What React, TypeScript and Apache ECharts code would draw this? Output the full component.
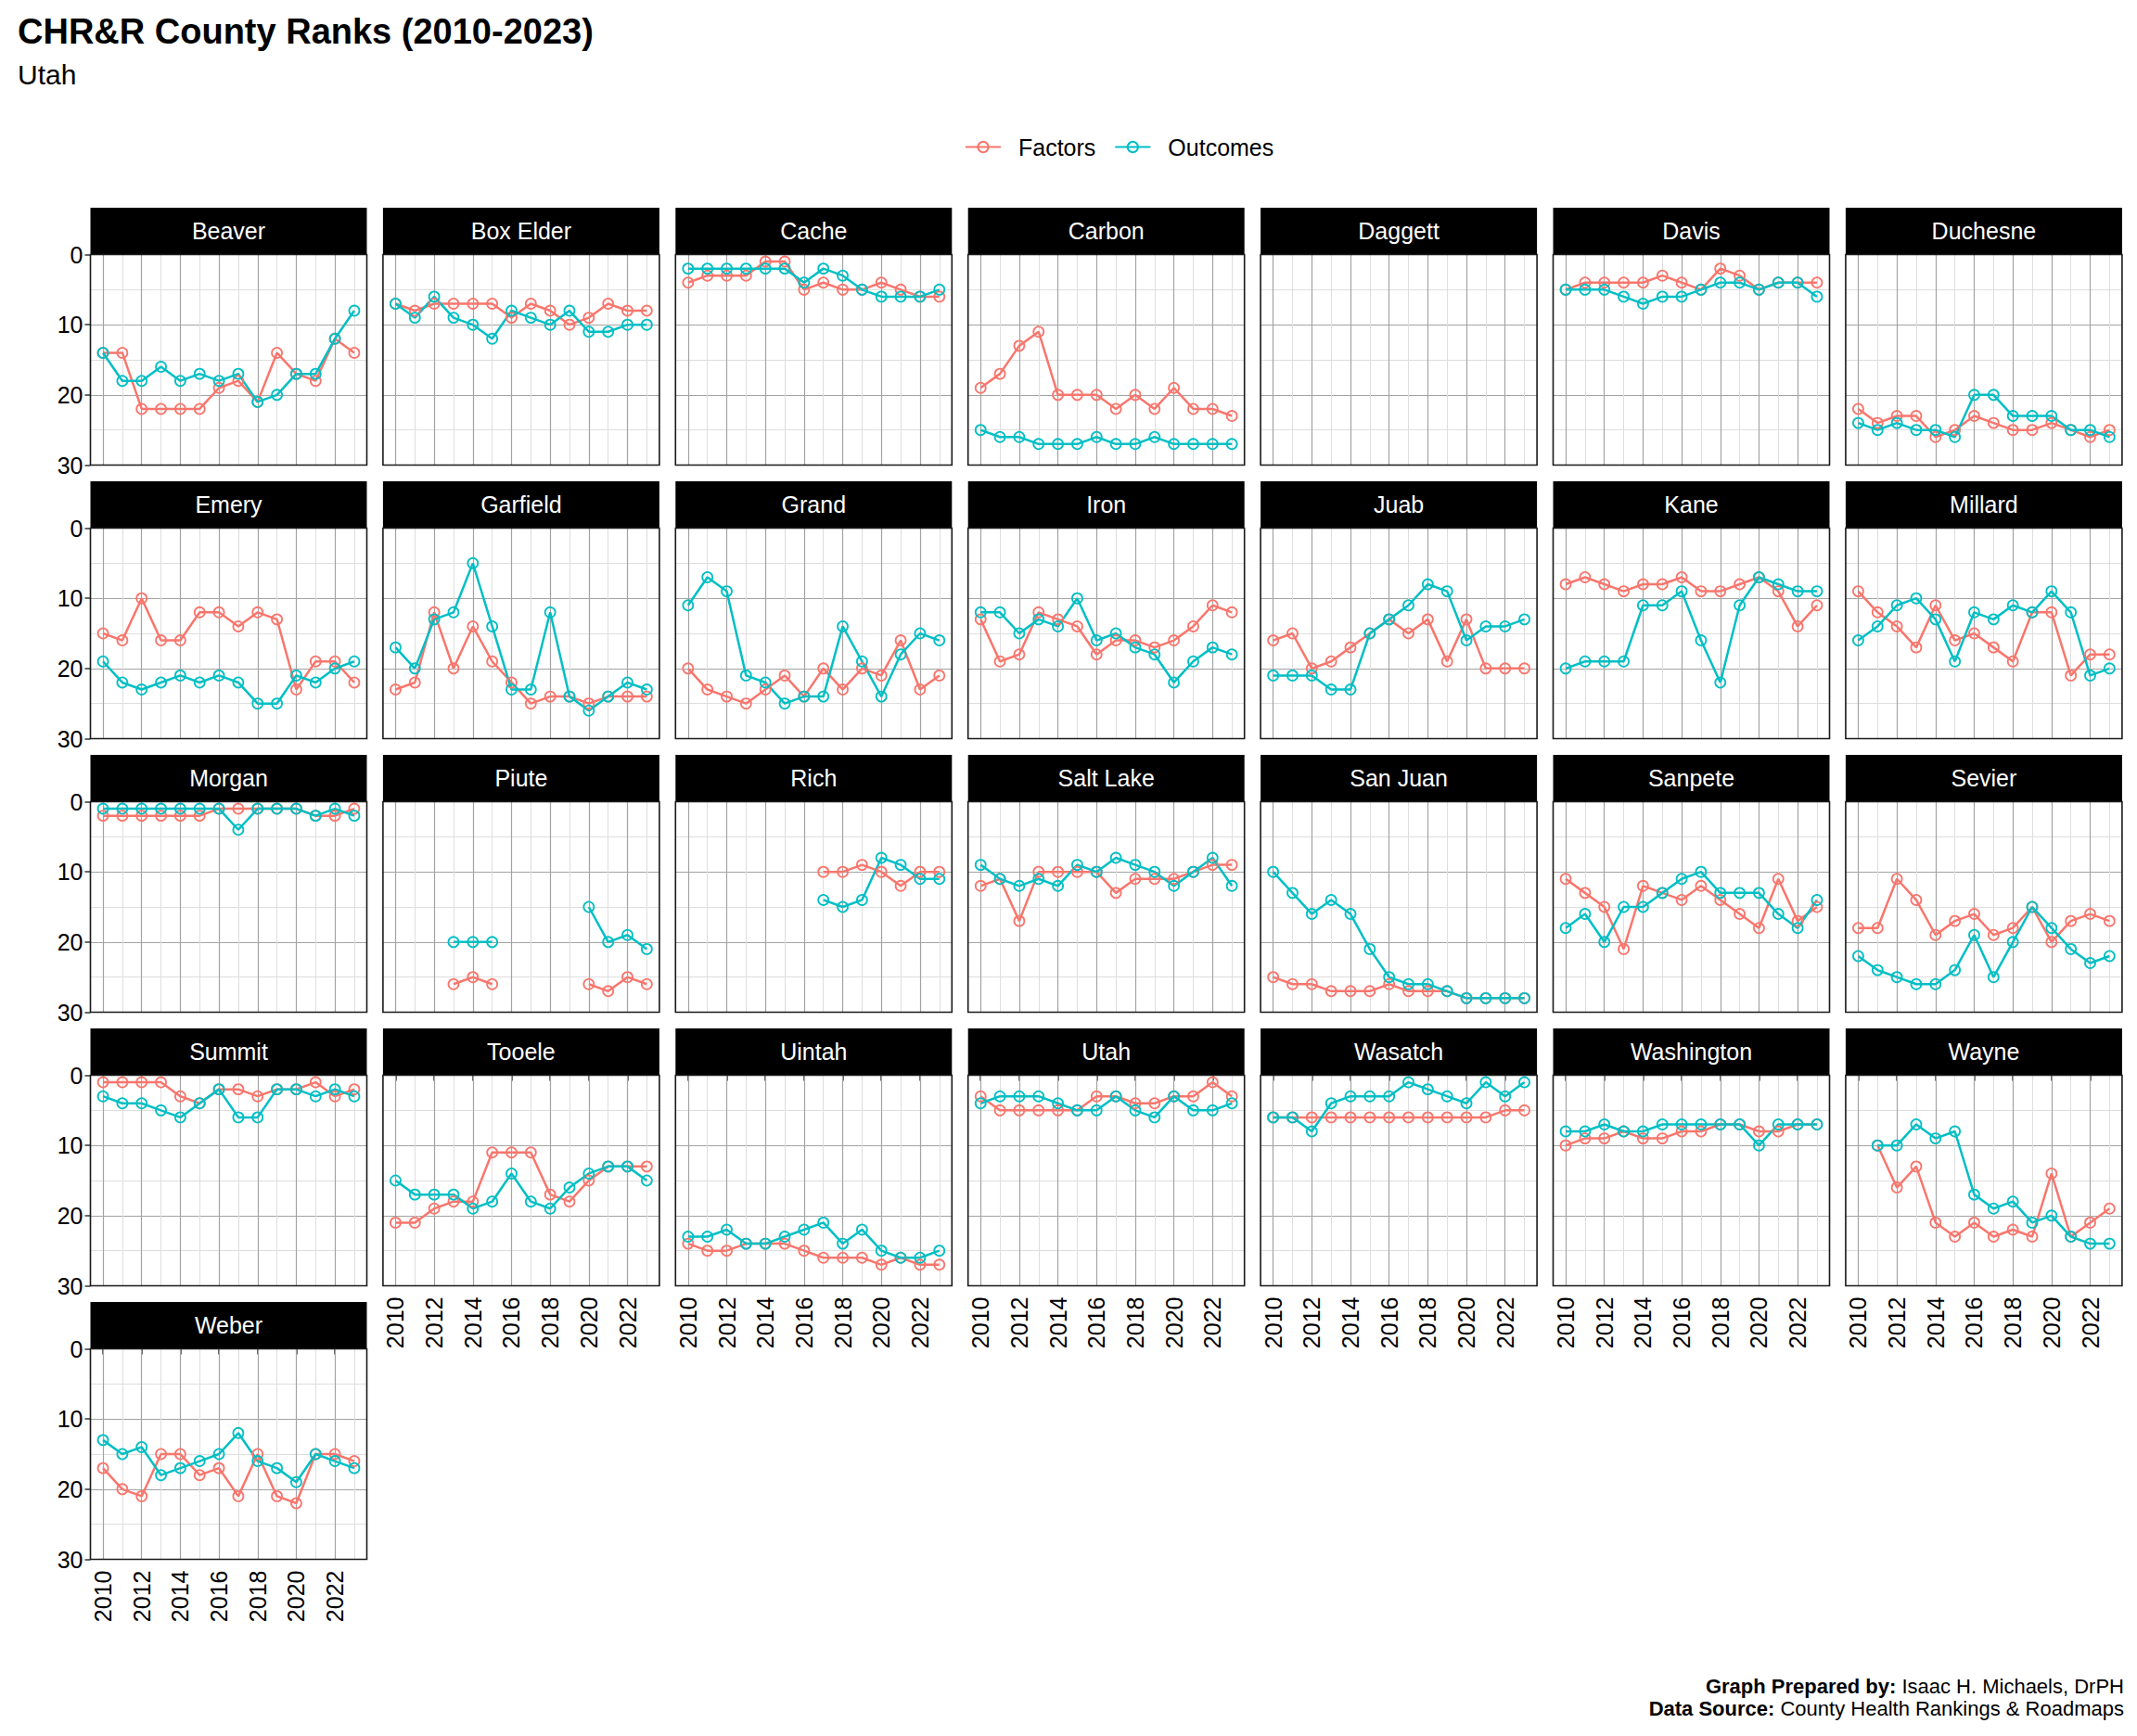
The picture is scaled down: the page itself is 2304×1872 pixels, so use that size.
import React, { useEffect, useRef } from 'react';
import * as echarts from 'echarts';

const N = null;
const YEARS = [2010, 2011, 2012, 2013, 2014, 2015, 2016, 2017, 2018, 2019, 2020, 2021, 2022, 2023];
const X_TICKS = [2010, 2012, 2014, 2016, 2018, 2020, 2022];
const Y_TICKS = [0, 10, 20, 30];
const SERIES_NAMES = ['Factors', 'Outcomes'];

const F_BEAVER = [14, 14, 22, 22, 22, 22, 19, 18, 21, 14, 17, 18, 12, 14];
const O_BEAVER = [14, 18, 18, 16, 18, 17, 18, 17, 21, 20, 17, 17, 12, 8];
const F_BOXELDER = [7, 8, 7, 7, 7, 7, 9, 7, 8, 10, 9, 7, 8, 8];
const O_BOXELDER = [7, 9, 6, 9, 10, 12, 8, 9, 10, 8, 11, 11, 10, 10];
const F_CACHE = [4, 3, 3, 3, 1, 1, 5, 4, 5, 5, 4, 5, 6, 6];
const O_CACHE = [2, 2, 2, 2, 2, 2, 4, 2, 3, 5, 6, 6, 6, 5];
const F_CARBON = [19, 17, 13, 11, 20, 20, 20, 22, 20, 22, 19, 22, 22, 23];
const O_CARBON = [25, 26, 26, 27, 27, 27, 26, 27, 27, 26, 27, 27, 27, 27];
const F_DAGGETT = [N, N, N, N, N, N, N, N, N, N, N, N, N, N];
const O_DAGGETT = [N, N, N, N, N, N, N, N, N, N, N, N, N, N];
const F_DAVIS = [5, 4, 4, 4, 4, 3, 4, 5, 2, 3, 5, 4, 4, 4];
const O_DAVIS = [5, 5, 5, 6, 7, 6, 6, 5, 4, 4, 5, 4, 4, 6];
const F_DUCHESNE = [22, 24, 23, 23, 26, 25, 23, 24, 25, 25, 24, 25, 26, 25];
const O_DUCHESNE = [24, 25, 24, 25, 25, 26, 20, 20, 23, 23, 23, 25, 25, 26];
const F_EMERY = [15, 16, 10, 16, 16, 12, 12, 14, 12, 13, 23, 19, 19, 22];
const O_EMERY = [19, 22, 23, 22, 21, 22, 21, 22, 25, 25, 21, 22, 20, 19];
const F_GARFIELD = [23, 22, 12, 20, 14, 19, 22, 25, 24, 24, 25, 24, 24, 24];
const O_GARFIELD = [17, 20, 13, 12, 5, 14, 23, 23, 12, 24, 26, 24, 22, 23];
const F_GRAND = [20, 23, 24, 25, 23, 21, 24, 20, 23, 20, 21, 16, 23, 21];
const O_GRAND = [11, 7, 9, 21, 22, 25, 24, 24, 14, 19, 24, 18, 15, 16];
const F_IRON = [13, 19, 18, 12, 13, 14, 18, 16, 16, 17, 16, 14, 11, 12];
const O_IRON = [12, 12, 15, 13, 14, 10, 16, 15, 17, 18, 22, 19, 17, 18];
const F_JUAB = [16, 15, 20, 19, 17, 15, 13, 15, 13, 19, 13, 20, 20, 20];
const O_JUAB = [21, 21, 21, 23, 23, 15, 13, 11, 8, 9, 16, 14, 14, 13];
const F_KANE = [8, 7, 8, 9, 8, 8, 7, 9, 9, 8, 7, 9, 14, 11];
const O_KANE = [20, 19, 19, 19, 11, 11, 9, 16, 22, 11, 7, 8, 9, 9];
const F_MILLARD = [9, 12, 14, 17, 11, 16, 15, 17, 19, 12, 12, 21, 18, 18];
const O_MILLARD = [16, 14, 11, 10, 13, 19, 12, 13, 11, 12, 9, 12, 21, 20];
const F_MORGAN = [2, 2, 2, 2, 2, 2, 1, 1, 1, 1, 1, 2, 2, 1];
const O_MORGAN = [1, 1, 1, 1, 1, 1, 1, 4, 1, 1, 1, 2, 1, 2];
const F_PIUTE = [N, N, N, 26, 25, 26, N, N, N, N, 26, 27, 25, 26];
const O_PIUTE = [N, N, N, 20, 20, 20, N, N, N, N, 15, 20, 19, 21];
const F_RICH = [N, N, N, N, N, N, N, 10, 10, 9, 10, 12, 10, 10];
const O_RICH = [N, N, N, N, N, N, N, 14, 15, 14, 8, 9, 11, 11];
const F_SALTLAKE = [12, 11, 17, 10, 10, 10, 10, 13, 11, 11, 11, 10, 9, 9];
const O_SALTLAKE = [9, 11, 12, 11, 12, 9, 10, 8, 9, 10, 12, 10, 8, 12];
const F_SANJUAN = [25, 26, 26, 27, 27, 27, 26, 27, 27, 27, 28, 28, 28, 28];
const O_SANJUAN = [10, 13, 16, 14, 16, 21, 25, 26, 26, 27, 28, 28, 28, 28];
const F_SANPETE = [11, 13, 15, 21, 12, 13, 14, 12, 14, 16, 18, 11, 17, 15];
const O_SANPETE = [18, 16, 20, 15, 15, 13, 11, 10, 13, 13, 13, 16, 18, 14];
const F_SEVIER = [18, 18, 11, 14, 19, 17, 16, 19, 18, 15, 20, 17, 16, 17];
const O_SEVIER = [22, 24, 25, 26, 26, 24, 19, 25, 20, 15, 18, 21, 23, 22];
const F_SUMMIT = [1, 1, 1, 1, 3, 4, 2, 2, 3, 2, 2, 1, 3, 2];
const O_SUMMIT = [3, 4, 4, 5, 6, 4, 2, 6, 6, 2, 2, 3, 2, 3];
const F_TOOELE = [21, 21, 19, 18, 18, 11, 11, 11, 17, 18, 15, 13, 13, 13];
const O_TOOELE = [15, 17, 17, 17, 19, 18, 14, 18, 19, 16, 14, 13, 13, 15];
const F_UINTAH = [24, 25, 25, 24, 24, 24, 25, 26, 26, 26, 27, 26, 27, 27];
const O_UINTAH = [23, 23, 22, 24, 24, 23, 22, 21, 24, 22, 25, 26, 26, 25];
const F_UTAH = [3, 5, 5, 5, 5, 5, 3, 3, 4, 4, 3, 3, 1, 3];
const O_UTAH = [4, 3, 3, 3, 4, 5, 5, 3, 5, 6, 3, 5, 5, 4];
const F_WASATCH = [6, 6, 6, 6, 6, 6, 6, 6, 6, 6, 6, 6, 5, 5];
const O_WASATCH = [6, 6, 8, 4, 3, 3, 3, 1, 2, 3, 4, 1, 3, 1];
const F_WASHINGTON = [10, 9, 9, 8, 9, 9, 8, 8, 7, 7, 8, 8, 7, 7];
const O_WASHINGTON = [8, 8, 7, 8, 8, 7, 7, 7, 7, 7, 10, 7, 7, 7];
const F_WAYNE = [N, 10, 16, 13, 21, 23, 21, 23, 22, 23, 14, 23, 21, 19];
const O_WAYNE = [N, 10, 10, 7, 9, 8, 17, 19, 18, 21, 20, 23, 24, 24];
const F_WEBER = [17, 20, 21, 15, 15, 18, 17, 21, 15, 21, 22, 15, 15, 16];
const O_WEBER = [13, 15, 14, 18, 17, 16, 15, 12, 16, 17, 19, 15, 16, 17];

const PANELS = [
  { name: 'Beaver', f: F_BEAVER, o: O_BEAVER },
  { name: 'Box Elder', f: F_BOXELDER, o: O_BOXELDER },
  { name: 'Cache', f: F_CACHE, o: O_CACHE },
  { name: 'Carbon', f: F_CARBON, o: O_CARBON },
  { name: 'Daggett', f: F_DAGGETT, o: O_DAGGETT },
  { name: 'Davis', f: F_DAVIS, o: O_DAVIS },
  { name: 'Duchesne', f: F_DUCHESNE, o: O_DUCHESNE },
  { name: 'Emery', f: F_EMERY, o: O_EMERY },
  { name: 'Garfield', f: F_GARFIELD, o: O_GARFIELD },
  { name: 'Grand', f: F_GRAND, o: O_GRAND },
  { name: 'Iron', f: F_IRON, o: O_IRON },
  { name: 'Juab', f: F_JUAB, o: O_JUAB },
  { name: 'Kane', f: F_KANE, o: O_KANE },
  { name: 'Millard', f: F_MILLARD, o: O_MILLARD },
  { name: 'Morgan', f: F_MORGAN, o: O_MORGAN },
  { name: 'Piute', f: F_PIUTE, o: O_PIUTE },
  { name: 'Rich', f: F_RICH, o: O_RICH },
  { name: 'Salt Lake', f: F_SALTLAKE, o: O_SALTLAKE },
  { name: 'San Juan', f: F_SANJUAN, o: O_SANJUAN },
  { name: 'Sanpete', f: F_SANPETE, o: O_SANPETE },
  { name: 'Sevier', f: F_SEVIER, o: O_SEVIER },
  { name: 'Summit', f: F_SUMMIT, o: O_SUMMIT },
  { name: 'Tooele', f: F_TOOELE, o: O_TOOELE },
  { name: 'Uintah', f: F_UINTAH, o: O_UINTAH },
  { name: 'Utah', f: F_UTAH, o: O_UTAH },
  { name: 'Wasatch', f: F_WASATCH, o: O_WASATCH },
  { name: 'Washington', f: F_WASHINGTON, o: O_WASHINGTON },
  { name: 'Wayne', f: F_WAYNE, o: O_WAYNE },
  { name: 'Weber', f: F_WEBER, o: O_WEBER },
];

const FONT = '"Liberation Sans", Arial, Helvetica, sans-serif';
const RED = '#F8766D';
const TEAL = '#00BFC4';
const MAJOR = '#a3a3a3';
const MINOR = '#dedede';

const NCOL = 7;
const COL_LEFT0 = 97.5;
const COL_PITCH = 315.4;
const PANEL_W = 298;
const STRIP_TOP0 = 224;
const ROW_PITCH = 295;
const STRIP_H = 50.5;
const PLOT_H = 227;

export default function App() {
  const ref = useRef<HTMLDivElement>(null);

  useEffect(() => {
    if (!ref.current) return;
    const chart = echarts.init(ref.current, null, { renderer: 'svg', width: 2304, height: 1872 });
    const n = PANELS.length;
    const grids: any[] = [];
    const xAxes: any[] = [];
    const yAxes: any[] = [];
    const series: any[] = [];
    const graphics: any[] = [];

    PANELS.forEach((p, i) => {
      const r = Math.floor(i / NCOL);
      const c = i % NCOL;
      const left = COL_LEFT0 + c * COL_PITCH;
      const stripTop = STRIP_TOP0 + r * ROW_PITCH;
      const top = stripTop + STRIP_H;
      const bottomPanel = i + NCOL >= n;
      grids.push({ left, top, width: PANEL_W, height: PLOT_H, show: false, containLabel: false });
      xAxes.push({
        type: 'value',
        gridIndex: i,
        min: 2009.35,
        max: 2023.65,
        splitLine: { show: false },
        axisLine: { show: false },
        axisTick: {
          show: bottomPanel,
          customValues: X_TICKS,
          length: 6,
          lineStyle: { color: '#333', width: 1.5 },
        },
        axisLabel: {
          show: bottomPanel,
          customValues: X_TICKS,
          rotate: 90,
          margin: 12,
          fontSize: 25,
          color: '#000',
          fontFamily: FONT,
          formatter: (v: number) => String(v),
        },
      });
      yAxes.push({
        type: 'value',
        gridIndex: i,
        inverse: true,
        min: 0,
        max: 30,
        interval: 10,
        axisLine: { show: false },
        axisTick: { show: c === 0, length: 6, lineStyle: { color: '#333', width: 1.5 } },
        axisLabel: {
          show: c === 0,
          fontSize: 25,
          color: '#000',
          margin: 8,
          fontFamily: FONT,
          formatter: (v: number) => (Y_TICKS.indexOf(v) >= 0 ? String(v) : ''),
        },
        splitLine: { show: true, lineStyle: { color: MAJOR, width: 1.2 } },
        minorTick: { show: false, splitNumber: 2 },
        minorSplitLine: { show: true, lineStyle: { color: MINOR, width: 1 } },
      });
      // vertical grid lines
      series.push({
        type: 'line',
        name: 'grid-' + i,
        xAxisIndex: i,
        yAxisIndex: i,
        data: YEARS.map((y) => [y, '-']),
        showSymbol: false,
        silent: true,
        z: 1,
        lineStyle: { opacity: 0 },
        markLine: {
          silent: true,
          z: 1,
          symbol: ['none', 'none'],
          label: { show: false },
          animation: false,
          data: YEARS.map((y) => ({
            xAxis: y,
            lineStyle: { color: y % 2 === 0 ? MAJOR : MINOR, width: y % 2 === 0 ? 1.2 : 1, type: 'solid' },
          })),
        },
      });
      const mk = (name: string, vals: (number | null)[], color: string) => ({
        type: 'line',
        name,
        xAxisIndex: i,
        yAxisIndex: i,
        z: 3,
        data: vals.map((v, k) => [YEARS[k], v == null ? '-' : v]),
        symbol: 'circle',
        symbolSize: 11,
        showSymbol: true,
        connectNulls: false,
        lineStyle: { color, width: 2.5 },
        itemStyle: { color: 'rgba(255,255,255,0)', borderColor: color, borderWidth: 1.8 },
        emphasis: { disabled: true },
      });
      series.push(mk(SERIES_NAMES[0], p.f, RED));
      series.push(mk(SERIES_NAMES[1], p.o, TEAL));

      graphics.push({
        type: 'rect',
        z: 10,
        shape: { x: left, y: stripTop, width: PANEL_W, height: STRIP_H },
        style: { fill: '#000' },
        silent: true,
      });
      graphics.push({
        type: 'text',
        z: 11,
        x: left + PANEL_W / 2,
        y: stripTop + STRIP_H / 2,
        style: {
          text: p.name,
          fill: '#fff',
          font: `25px ${FONT}`,
          align: 'center',
          verticalAlign: 'middle',
          textAlign: 'center',
          textVerticalAlign: 'middle',
        },
        silent: true,
      });
      graphics.push({
        type: 'rect',
        z: 10,
        shape: { x: left, y: top, width: PANEL_W, height: PLOT_H },
        style: { fill: 'none', stroke: '#1a1a1a', lineWidth: 1.6 },
        silent: true,
      });
    });

    graphics.push({
      type: 'text',
      z: 11,
      x: 2290,
      y: 1818,
      style: {
        text: '{b|Graph Prepared by:} Isaac H. Michaels, DrPH',
        rich: { b: { fontWeight: 'bold', fontSize: 22, fontFamily: FONT, fill: '#000' } },
        font: `22px ${FONT}`,
        fill: '#000',
        align: 'right',
        textAlign: 'right',
        verticalAlign: 'middle',
        textVerticalAlign: 'middle',
      },
      silent: true,
    });
    graphics.push({
      type: 'text',
      z: 11,
      x: 2290,
      y: 1842,
      style: {
        text: '{b|Data Source:} County Health Rankings & Roadmaps',
        rich: { b: { fontWeight: 'bold', fontSize: 22, fontFamily: FONT, fill: '#000' } },
        font: `22px ${FONT}`,
        fill: '#000',
        align: 'right',
        textAlign: 'right',
        verticalAlign: 'middle',
        textVerticalAlign: 'middle',
      },
      silent: true,
    });

    const option: any = {
      animation: false,
      backgroundColor: '#fff',
      textStyle: { fontFamily: FONT },
      title: {
        text: 'CHR&R County Ranks (2010-2023)',
        subtext: 'Utah',
        left: 14,
        top: 10,
        itemGap: 12,
        textStyle: { fontSize: 38, fontWeight: 'bold', color: '#000', fontFamily: FONT },
        subtextStyle: { fontSize: 30, color: '#000', fontFamily: FONT },
      },
      legend: {
        data: SERIES_NAMES,
        left: 1035,
        top: 141,
        itemWidth: 38,
        itemHeight: 14,
        itemGap: 20,
        selectedMode: false,
        textStyle: { fontSize: 25, color: '#000', fontFamily: FONT, padding: [0, 0, 0, 14] },
      },
      grid: grids,
      xAxis: xAxes,
      yAxis: yAxes,
      series,
      graphic: { elements: graphics },
    };
    chart.setOption(option);
    return () => chart.dispose();
  }, []);

  return (
    <div
      ref={ref}
      style={{ position: 'absolute', left: 0, top: 0, width: 2304, height: 1872, background: '#fff' }}
    />
  );
}
